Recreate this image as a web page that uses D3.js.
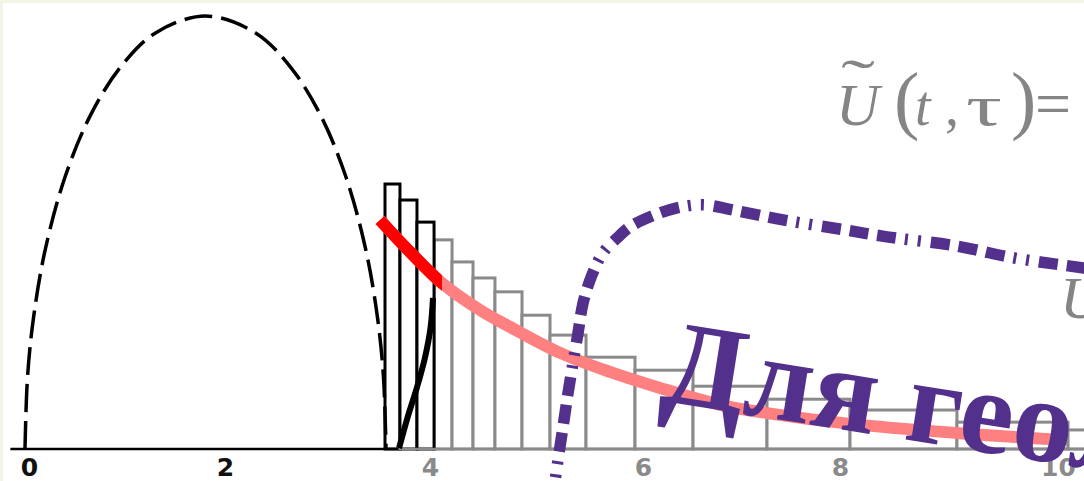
<!DOCTYPE html>
<html><head><meta charset="utf-8">
<script src="https://cdn.jsdelivr.net/npm/d3@7"></script>
<style>html,body{margin:0;padding:0;background:#fff;overflow:hidden}</style>
</head><body><svg id="c" width="1084" height="481"></svg>
<script>
// ---- data ----
const tickValues = [0, 2, 4, 6, 8, 10];
const tickLabels = ["0", "2", "4", "6", "8", "10"];
const tickDark = [true, true, false, false, false, false];

// dashed arch (peak = 1)
const archX = [-0.041, -0.015, 0.046, 0.168, 0.372, 0.628, 0.934, 1.291, 1.801, 2.298, 2.639, 2.932, 3.176, 3.371, 3.488, 3.546, 3.571];
const archY = [0, 0.166, 0.303, 0.463, 0.631, 0.771, 0.882, 0.961, 1.0, 0.961, 0.882, 0.771, 0.631, 0.463, 0.303, 0.166, 0];

// histogram
const binEdges = [3.561, 3.707, 3.873, 4.038, 4.207, 4.404, 4.610, 4.864, 5.127, 5.465, 5.925, 6.508, 7.259, 8.092, 9.073, 10.092, 11.3];
const binHeights = [0.612, 0.575, 0.524, 0.483, 0.432, 0.395, 0.363, 0.309, 0.263, 0.212, 0.182, 0.145, 0.115, 0.090, 0.062, 0.044];
const binDark = [true, true, true, false, false, false, false, false, false, false, false, false, false, false, false, false];

// decay curve (red part up to redEnd, then light)
const decayX = [3.512, 3.805, 4.113, 4.469, 4.751, 5.221, 5.690, 6.173, 6.782, 7.259, 8.092, 9.073, 10.037];
const decayY = [0.529, 0.455, 0.383, 0.321, 0.282, 0.222, 0.178, 0.141, 0.102, 0.083, 0.058, 0.037, 0.021];
const redEnd = 4.113;

// black sliver curve
const sliverX = [4.028, 4.005, 3.950, 3.870, 3.780, 3.698];
const sliverY = [0.349, 0.280, 0.210, 0.140, 0.072, 0.002];

// purple dash-dot-dot curve
const purpleX = [5.174, 5.202, 5.249, 5.296, 5.343, 5.390, 5.437, 5.521, 5.624, 5.756, 5.878, 6.091, 6.345, 6.609, 6.914, 7.421, 8.046, 8.431, 9.064, 9.560, 9.835, 10.239, 10.477];
const purpleY = [-0.074, -0.025, 0.051, 0.129, 0.199, 0.268, 0.337, 0.402, 0.453, 0.487, 0.513, 0.538, 0.557, 0.564, 0.552, 0.529, 0.506, 0.490, 0.469, 0.443, 0.432, 0.418, 0.409];

// baseline extents
const baseBlack = [-0.19, 3.69];
const baseGray = [3.69, 11.5];

const bigText = "Для геол";

// ---- drawing ----
const svg = d3.select("#c");
const W = 1084, H = 481;
const x = d3.scaleLinear().domain(tickValues).range([29, 225, 430, 643, 840, 1058]);
const y = d3.scaleLinear().domain([0, 1]).range([449, 16]);

svg.append("rect").attr("width", W).attr("height", H).attr("fill", "#f3f3e6");
svg.append("rect").attr("x", 3).attr("y", 3).attr("width", W).attr("height", H).attr("fill", "#ffffff");

const GRAY = "#8a8a8a";
const PURPLE = "#52308c";

// histogram bars
const bins = binHeights.map((h, i) => ({x0: binEdges[i], x1: binEdges[i + 1], h, dark: binDark[i]}));
const drawBars = (arr) => svg.append("g").selectAll("rect").data(arr).join("rect")
  .attr("x", d => x(d.x0)).attr("width", d => x(d.x1) - x(d.x0))
  .attr("y", d => y(d.h)).attr("height", d => y(0) - y(d.h))
  .attr("fill", "#fff").attr("stroke", d => d.dark ? "#000" : GRAY).attr("stroke-width", 3);
drawBars(bins.filter(d => !d.dark));
drawBars(bins.filter(d => d.dark));

// baseline
svg.append("line").attr("x1", x(baseGray[0])).attr("x2", x(baseGray[1])).attr("y1", y(0)).attr("y2", y(0))
  .attr("stroke", GRAY).attr("stroke-width", 2.5);
svg.append("line").attr("x1", x(baseBlack[0])).attr("x2", x(baseBlack[1])).attr("y1", y(0)).attr("y2", y(0))
  .attr("stroke", "#000").attr("stroke-width", 2.5);

// arch
const lineGen = d3.line().x(d => x(d[0])).y(d => y(d[1])).curve(d3.curveCatmullRom.alpha(0.5));
svg.append("path").attr("d", lineGen(d3.zip(archX, archY)))
  .attr("fill", "none").attr("stroke", "#000").attr("stroke-width", 3.5).attr("stroke-dasharray", "28,9");

// sliver
svg.append("path").attr("d", lineGen(d3.zip(sliverX, sliverY)))
  .attr("fill", "none").attr("stroke", "#000").attr("stroke-width", 6);

// decay curve
const decayPts = d3.zip(decayX, decayY);
svg.append("path").attr("d", lineGen(decayPts))
  .attr("fill", "none").attr("stroke", "#ff8080").attr("stroke-width", 12);
svg.append("clipPath").attr("id", "redclip").append("rect")
  .attr("x", 0).attr("y", 0).attr("width", x(redEnd)).attr("height", H);
svg.append("path").attr("d", lineGen(decayPts)).attr("clip-path", "url(#redclip)")
  .attr("fill", "none").attr("stroke", "#ff0000").attr("stroke-width", 12);

// purple curve
svg.append("path").attr("d", lineGen(d3.zip(purpleX, purpleY)))
  .attr("fill", "none").attr("stroke", PURPLE).attr("stroke-width", 11.5)
  .attr("stroke-dasharray", "19,9,19,9,19,9,3,10,3,10").attr("stroke-dashoffset", 80);

// axis labels
const axis = d3.axisBottom(x).tickValues(tickValues).tickSize(0).tickPadding(0)
  .tickFormat((d, i) => tickLabels[i]);
const ag = svg.append("g").attr("transform", `translate(0,${y(0) + 9})`).call(axis);
ag.select(".domain").remove();
ag.selectAll("text").attr("font-family", "DejaVu Sans").attr("font-weight", "bold").attr("font-size", 25)
  .attr("dy", "0.71em").attr("fill", (d, i) => tickDark[i] ? "#111" : GRAY);

// big purple text
svg.append("text").attr("transform", `translate(${x(6.16)},${y(0.112)}) rotate(9)`)
  .attr("font-family", "Liberation Serif").attr("font-weight", "bold").attr("font-size", 121)
  .attr("fill", PURPLE).text(bigText);

// gray formula
const F = svg.append("g").attr("fill", "#858585").attr("font-family", "Liberation Serif");
const fb = 125;
F.append("text").attr("x", 836).attr("y", fb).attr("font-style", "italic").attr("font-size", 60).text("U");
F.append("text").attr("x", 841).attr("y", fb - 26).attr("font-size", 56).text("˜")
  .attr("textLength", 34).attr("lengthAdjust", "spacingAndGlyphs");
F.append("text").attr("x", 894).attr("y", fb).attr("font-size", 76).text("(");
F.append("text").attr("x", 915).attr("y", fb).attr("font-style", "italic").attr("font-size", 56).text("t");
F.append("text").attr("x", 945).attr("y", fb).attr("font-size", 56).text(",");
F.append("text").attr("x", 966).attr("y", fb).attr("font-size", 58).text("τ")
  .attr("textLength", 36).attr("lengthAdjust", "spacingAndGlyphs");
F.append("text").attr("x", 1011).attr("y", fb).attr("font-size", 76).text(")");
F.append("text").attr("x", 1035).attr("y", fb).attr("font-size", 64).text("=");
F.append("text").attr("x", 1060).attr("y", 318).attr("font-style", "italic").attr("font-size", 60).text("U");
</script></body></html>
